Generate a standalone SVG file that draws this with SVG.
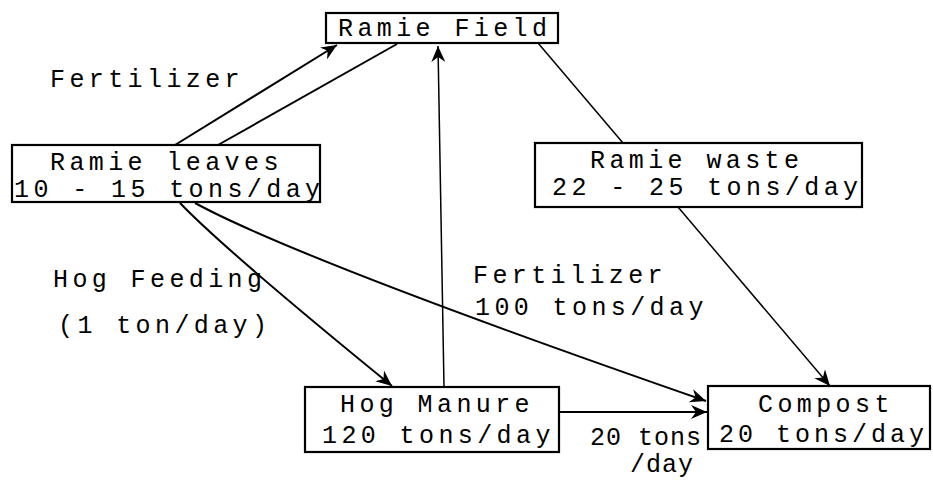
<svg xmlns="http://www.w3.org/2000/svg" width="933" height="480" viewBox="0 0 933 480">
<style>
.box{fill:#fff;stroke:#000;stroke-width:2.2}
.t{font-family:"Liberation Mono","Courier New",monospace;font-size:25px;letter-spacing:4.4px;fill:#000}
.c{fill:none;stroke:#000;stroke-width:2}
.thin{fill:none;stroke:#000;stroke-width:1.5}
</style>
<defs>
<marker id="ah" markerWidth="18" markerHeight="14" refX="16" refY="7" orient="auto" markerUnits="userSpaceOnUse">
<path d="M0,0 L16,7 L0,14 L5,7 Z" fill="#000"/>
</marker>
</defs>
<rect width="933" height="480" fill="#fff"/>
<g id="connectors">
<line class="c" x1="175" y1="145" x2="337" y2="45" marker-end="url(#ah)"/>
<line class="c" x1="218" y1="145" x2="397" y2="44"/>
<line class="thin" x1="444" y1="387" x2="438" y2="46" marker-end="url(#ah)"/>
<line class="thin" x1="538" y1="43" x2="623" y2="143"/>
<line class="thin" x1="678" y1="207" x2="830" y2="386" marker-end="url(#ah)"/>
<path class="c" d="M180,203 Q225,250 392,386" marker-end="url(#ah)"/>
<path class="c" d="M195,203 Q300,260 706,401" marker-end="url(#ah)"/>
<line class="c" x1="559" y1="412" x2="707" y2="412" marker-end="url(#ah)"/>
</g>
<g id="ramie-field">
<rect class="box" x="326" y="13" width="232" height="30"/>
<text class="t" x="338" y="36">Ramie Field</text>
</g>
<g id="ramie-leaves">
<rect class="box" x="12" y="145" width="308" height="57"/>
<text class="t" x="50" y="170">Ramie leaves</text>
<text class="t" x="14" y="197">10 - 15 tons/day</text>
</g>
<g id="ramie-waste">
<rect class="box" x="535" y="143" width="327" height="64"/>
<text class="t" x="590" y="168">Ramie waste</text>
<text class="t" x="552" y="195">22 - 25 tons/day</text>
</g>
<g id="hog-manure">
<rect class="box" x="305" y="387" width="254" height="65"/>
<text class="t" x="340" y="412">Hog Manure</text>
<text class="t" x="322" y="443">120 tons/day</text>
</g>
<g id="compost">
<rect class="box" x="708" y="386" width="222" height="63"/>
<text class="t" x="758" y="412">Compost</text>
<text class="t" x="719" y="442" style="letter-spacing:4px">20 tons/day</text>
</g>
<g id="labels">
<text class="t" x="50" y="87">Fertilizer</text>
<text class="t" x="53" y="287">Hog Feeding</text>
<text class="t" x="58" y="333">(1 ton/day)</text>
<text class="t" x="473" y="283">Fertilizer</text>
<text class="t" x="475" y="315">100 tons/day</text>
<text class="t" x="590" y="445" style="letter-spacing:1px">20 tons</text>
<text class="t" x="630" y="472" style="letter-spacing:1px">/day</text>
</g>
</svg>
